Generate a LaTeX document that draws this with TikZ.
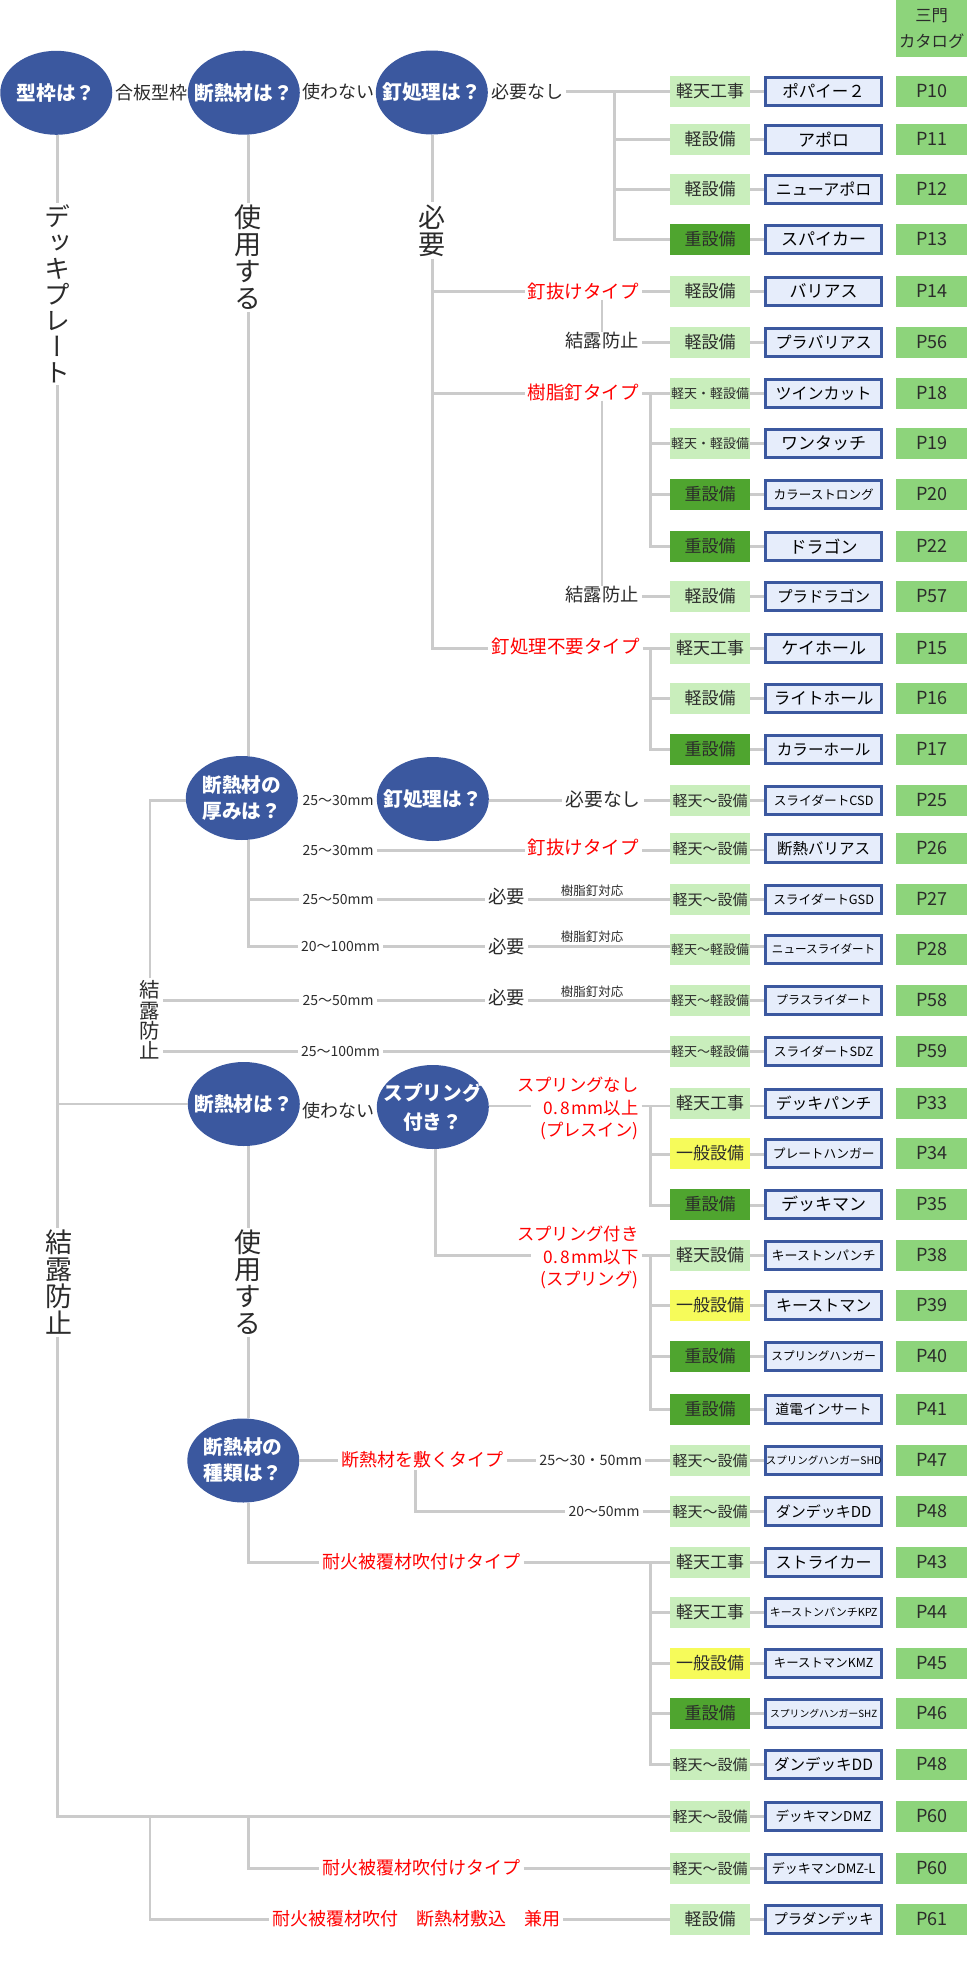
\documentclass[tikz,border=0pt]{standalone}
\usepackage{fontspec}
\usetikzlibrary{shapes.geometric}
\setmainfont{Noto Sans CJK JP}
\newfontfamily\vfont[RawFeature=+vert]{Noto Sans CJK JP}
\newcommand\fsz[1]{\fontsize{#1}{#1}\selectfont}
\definecolor{line}{HTML}{CBCBCB}
\definecolor{blu}{HTML}{3B589F}
\definecolor{prodfill}{HTML}{E6EDFB}
\definecolor{lgreen}{HTML}{C9EEBC}
\definecolor{dgreen}{HTML}{4FA52F}
\definecolor{yel}{HTML}{F6FB5A}
\definecolor{pagegreen}{HTML}{8DD47B}
\definecolor{txt}{HTML}{2B2B2B}
\tikzset{
  conn/.style={draw=line,line width=2.6pt},
  fine/.style={draw=line,line width=2pt},
  ell/.style={ellipse,fill=blu,minimum width=112pt,minimum height=84pt,inner sep=0pt},
  etxt/.style={text=white,font=\bfseries\fsz{19.7},align=center,inner sep=0pt},
  lab/.style={text=txt,font=\fsz{#1},inner xsep=3pt,inner ysep=0pt},
  rlab/.style={text=red,font=\fsz{#1},inner xsep=3pt,inner ysep=0pt},
  rlab3/.style={text=red,font=\fontsize{17.3}{22.5}\selectfont,align=right,inner xsep=3pt,inner ysep=0pt},
  vt/.style={text=txt,align=center,inner xsep=3pt,inner ysep=2pt,font=\vfont\fontsize{#1}{#1}\selectfont},
  tagbox/.style={minimum width=80pt,minimum height=30.7pt,inner sep=0pt},
  tl/.style={tagbox,fill=lgreen,text=txt},
  td/.style={tagbox,fill=dgreen,text=txt},
  ty/.style={tagbox,fill=yel,text=txt},
  prodbox/.style={draw=blu,line width=3pt,fill=prodfill,text=black,minimum width=116.5pt,minimum height=27.7pt,inner sep=0pt},
  pg/.style={fill=pagegreen,text=txt,minimum width=71pt,minimum height=30.7pt,inner sep=0pt,font=\fsz{18}},
}
% [link offset]{id}{y}{tag style}{tag size}{tag}{product size}{product}{page}
\newcommand\prow[9][0pt]{%
  \node[#4,font=\fsz{#5}] (t#2) at (719.5,#3) {#6};
  \node[prodbox,font=\fsz{#7}] (b#2) at (834.5,#3) {#8};
  \node[pg] (g#2) at (944,#3) {#9};
  \draw[conn] ([yshift=#1]t#2.east) -- ([yshift=#1]b#2.west);
}
\begin{document}
\begin{tikzpicture}[x=0.987pt,y=-1pt]
\useasboundingbox (0,0) rectangle (992.9,1965);
\node[pg,minimum height=57pt,align=center,font=\fontsize{16.3}{26}\selectfont] (hdr) at (944,28.5) {三門\\カタログ};

\prow{10}{91.3}{tl}{17}{軽天工事}{16.5}{ポパイー２}{P10}
\prow{11}{139.3}{tl}{17}{軽設備}{17}{アポロ}{P11}
\prow{12}{189.3}{tl}{17}{軽設備}{16}{ニューアポロ}{P12}
\prow{13}{239.3}{td}{17}{重設備}{17}{スパイカー}{P13}
\prow{14}{291.3}{tl}{17}{軽設備}{17}{バリアス}{P14}
\prow{56}{342.3}{tl}{17}{軽設備}{16}{プラバリアス}{P56}
\prow{18}{393.3}{tl}{13}{軽天・軽設備}{16}{ツインカット}{P18}
\prow{19}{443.3}{tl}{13}{軽天・軽設備}{17}{ワンタッチ}{P19}
\prow{20}{494.3}{td}{17}{重設備}{12.6}{カラーストロング}{P20}
\prow{22}{546.3}{td}{17}{重設備}{17}{ドラゴン}{P22}
\prow{57}{596.3}{tl}{17}{軽設備}{15.5}{プラドラゴン}{P57}
\prow{15}{648.3}{tl}{17}{軽天工事}{17}{ケイホール}{P15}
\prow{16}{698.3}{tl}{17}{軽設備}{16.6}{ライトホール}{P16}
\prow{17}{749.3}{td}{17}{重設備}{15.6}{カラーホール}{P17}
\prow{25}{800.3}{tl}{15}{軽天～設備}{12.7}{スライダートCSD}{P25}
\prow[-1.7pt]{26}{848.3}{tl}{15}{軽天～設備}{15.5}{断熱バリアス}{P26}
\prow{27}{899.3}{tl}{15}{軽天～設備}{12.7}{スライダートGSD}{P27}
\prow[2.6pt]{28}{949.3}{tl}{13}{軽天～軽設備}{11.6}{ニュースライダート}{P28}
\prow{58}{1000.3}{tl}{13}{軽天～軽設備}{12}{プラスライダート}{P58}
\prow{59}{1051.3}{tl}{13}{軽天～軽設備}{12.7}{スライダートSDZ}{P59}
\prow[-2.7pt]{33}{1103.3}{tl}{17}{軽天工事}{15.8}{デッキパンチ}{P33}
\prow[-1pt]{34}{1153.3}{ty}{17}{一般設備}{12.7}{プレートハンガー}{P34}
\prow[-1pt]{35}{1204.3}{td}{17}{重設備}{17}{デッキマン}{P35}
\prow{38}{1255.3}{tl}{17}{軽天設備}{13}{キーストンパンチ}{P38}
\prow{39}{1305.3}{ty}{17}{一般設備}{16}{キーストマン}{P39}
\prow{40}{1356.3}{td}{17}{重設備}{11.6}{スプリングハンガー}{P40}
\prow{41}{1409.3}{td}{17}{重設備}{13.7}{道電インサート}{P41}
\prow{47}{1460.3}{tl}{15}{軽天～設備}{10.5}{スプリングハンガーSHD}{P47}
\prow{48}{1511.3}{tl}{15}{軽天～設備}{15}{ダンデッキDD}{P48}
\prow{43}{1562.3}{tl}{17}{軽天工事}{16}{ストライカー}{P43}
\prow{44}{1612.3}{tl}{17}{軽天工事}{11}{キーストンパンチKPZ}{P44}
\prow{45}{1663.3}{ty}{17}{一般設備}{12.4}{キーストマンKMZ}{P45}
\prow{46}{1713.3}{td}{17}{重設備}{9.8}{スプリングハンガーSHZ}{P46}
\prow{48b}{1764.3}{tl}{15}{軽天～設備}{15.5}{ダンデッキDD}{P48}
\prow{60}{1816.3}{tl}{15}{軽天～設備}{13.5}{デッキマンDMZ}{P60}
\prow{60b}{1868.3}{tl}{15}{軽天～設備}{13}{デッキマンDMZ-L}{P60}
\prow{61}{1919.3}{tl}{17}{軽設備}{14.3}{プラダンデッキ}{P61}

% decision ellipses
\node[ell] (e1) at (57,92.8) {};
\node[etxt] at (e1) {型枠は？};
\node[ell] (e2) at (247,92.7) {};
\node[etxt] at (e2) {断熱材は？};
\node[ell] (e3) at (437.5,92.5) {};
\node[etxt] at (e3) {釘処理は？};
\node[ell] (e4) at (245,798) {};
\node[etxt,font=\bfseries\fontsize{19.7}{26}\selectfont] at (e4) {断熱材の\\厚みは？};
\node[ell] (e5) at (438.5,799) {};
\node[etxt] at (e5) {釘処理は？};
\node[ell] (e6) at (247,1104) {};
\node[etxt] at (e6) {断熱材は？};
\node[ell] (e7) at (438.5,1107) {};
\node[etxt,font=\bfseries\fontsize{19.7}{29}\selectfont] at (e7) {スプリング\\付き？};
\node[ell] (e8) at (246.5,1460.5) {};
\node[etxt,font=\bfseries\fontsize{19.7}{26}\selectfont] at (e8) {断熱材の\\種類は？};

% vertical labels
\node[vt=26] (v1) at (58,294) {デ\\ッ\\キ\\プ\\レ\\ー\\ト};
\node[vt=27] (v2) at (251.5,257.5) {使\\用\\す\\る};
\node[vt=27] (v3) at (438,230.5) {必\\要};
\node[vt=27] (v4) at (60,1282.5) {結\\露\\防\\止};
\node[vt=27] (v5) at (251.5,1282.5) {使\\用\\す\\る};
\node[vt=20.4] (v6) at (152,1020) {結\\露\\防\\止};

% edge labels, top
\node[lab=18] (a1) at (153,93) {合板型枠};
\node[lab=18] (a2) at (343,92) {使わない};
\node[lab=18] (a3) at (534,92) {必要なし};
\node[rlab=18.5] (l14) at (591,291) {釘抜けタイプ};
\node[lab=18.3] (k56) at (610,341) {結露防止};
\node[rlab=18.5] (l18) at (591,392) {樹脂釘タイプ};
\node[lab=18.3] (k57) at (610,595) {結露防止};
\node[rlab=18.5] (l15) at (573,646) {釘処理不要タイプ};

% middle labels
\node[lab=14] (m25) at (342.5,800.3) {25～30mm};
\node[lab=18.8] (n25) at (611,799) {必要なし};
\node[lab=14] (m26) at (342.5,850.3) {25～30mm};
\node[rlab=18.5] (r26) at (591,847) {釘抜けタイプ};
\node[lab=14] (m27) at (342.5,899.3) {25～50mm};
\node[lab=18.3] (y27) at (513.6,897) {必要};
\node[lab=12.5] (j27) at (600,890.7) {樹脂釘対応};
\node[lab=14] (m28) at (345,946.7) {20～100mm};
\node[lab=18.3] (y28) at (513.6,946.7) {必要};
\node[lab=12.5] (j28) at (600,937) {樹脂釘対応};
\node[lab=14] (m58) at (342.5,1000.3) {25～50mm};
\node[lab=18.3] (y58) at (513.6,998) {必要};
\node[lab=12.5] (j58) at (600,991.7) {樹脂釘対応};
\node[lab=14] (m59) at (345,1051.3) {25～100mm};

% lower labels
\node[lab=18] (a6) at (343,1110.7) {使わない};
\node[rlab3,anchor=east] (s33) at (650,1108.5) {スプリングなし\\0.\kern2pt 8\kern2pt mm以上\\(プレスイン)};
\node[rlab3,anchor=east] (s38) at (650,1257.5) {スプリング付き\\0.\kern2pt 8\kern2pt mm以下\\(スプリング)};
\node[rlab=18] (r47) at (428,1460) {断熱材を敷くタイプ};
\node[lab=14.3] (m47) at (598.5,1460) {25～30・50mm};
\node[lab=14] (m48) at (612,1511.3) {20～50mm};
\node[rlab=18] (r43) at (427,1562) {耐火被覆材吹付けタイプ};
\node[rlab=18] (r60) at (427,1868) {耐火被覆材吹付けタイプ};
\node[rlab=18] (r61) at (421.5,1919) {耐火被覆材吹付\quad 断熱材敷込\quad 兼用};

\coordinate (c1) at (622.5,91.3);
\coordinate (c2) at (659,393.3);
\coordinate (c3) at (659,648.3);
\coordinate (c4) at (659,1106);
\coordinate (c5) at (659,1255.3);
\coordinate (c6) at (659,1562.3);
\coordinate (c7) at (421,1470);
\coordinate (c8) at (441,1149);
\coordinate (c9) at (538,1106);

% main verticals
\draw[conn] (v1.north |- e1.south) -- (v1.north);
\draw[conn] (v1.south) -- (v1.south |- v4.north);
\draw[conn] (v1.south |- v4.south) |- (t60.west);
\draw[conn] (v1.south |- e6.west) -- (e6.west);
\draw[conn] (v2.north |- e2.south) -- (v2.north);
\draw[conn] (v2.south) -- (v2.south |- e4.north);
\draw[conn] (v3.north |- e3.south) -- (v3.north);
\draw[conn] (v3.south) |- (l15.west |- t15.west);
\draw[conn] (v3.south |- t14.west) -- (l14.west |- t14.west);
\draw[conn] (v3.south |- t18.west) -- (l18.west |- t18.west);

% top group
\draw[conn] (a3.east |- t10.west) -- (t10.west);
\draw[conn] (c1) |- (t13.west);
\draw[conn] (c1 |- t11.west) -- (t11.west);
\draw[conn] (c1 |- t12.west) -- (t12.west);
\draw[conn] (l14.east |- t14.west) -- (t14.west);
\draw[fine] (k56.north |- l14.south) -- (k56.north);
\draw[conn] (k56.east |- t56.west) -- (t56.west);
\draw[fine] (k57.north |- l18.south) -- (k57.north);
\draw[conn] (k57.east |- t57.west) -- (t57.west);
\draw[conn] (l18.east |- t18.west) -- (t18.west);
\draw[conn] (c2) |- (t22.west);
\draw[conn] (c2 |- t19.west) -- (t19.west);
\draw[conn] (c2 |- t20.west) -- (t20.west);
\draw[conn] (l15.east |- t15.west) -- (t15.west);
\draw[conn] (c3) |- (t17.west);
\draw[conn] (c3 |- t16.west) -- (t16.west);

% thickness section
\draw[conn] (v6.north) |- (e4.west |- t25.west);
\draw[conn] (v2.south |- e4.south) -- (v2.south |- m28.west) -- (m28.west);
\draw[conn] (v2.south |- m27.west) -- (m27.west);
\draw[conn] (e5.east |- t25.west) -- (n25.west |- t25.west);
\draw[conn] (n25.east |- t25.west) -- (t25.west);
\draw[conn] (m26.east) -- (r26.west |- m26.east);
\draw[conn] (r26.east |- m26.east) -- (t26.west |- m26.east);
\draw[conn] (m27.east) -- (y27.west |- m27.east);
\draw[conn] (y27.east |- t27.west) -- (t27.west);
\draw[conn] (m28.east) -- (y28.west);
\draw[conn] (y28.east) -- (t28.west |- y28.east);
\draw[conn] (v6.east |- t58.west) -- (m58.west);
\draw[conn] (m58.east) -- (y58.west |- m58.east);
\draw[conn] (y58.east |- t58.west) -- (t58.west);
\draw[conn] (v6.east |- t59.west) -- (m59.west);
\draw[conn] (m59.east) -- (t59.west);

% deck section
\draw[conn] (e7.east |- c4) -- (c9);
\draw[conn] (s33.east |- c4) -- (t33.west |- c4);
\draw[conn] (c4) |- ([yshift=-1pt]t35.west);
\draw[conn] (c4 |- t34.west) ++(0,1) -- ++(20,0);
\draw[conn] (c8) |- (c9 |- t38.west);
\draw[conn] (s38.east |- t38.west) -- (t38.west);
\draw[conn] (c5) |- (t41.west);
\draw[conn] (c5 |- t39.west) -- (t39.west);
\draw[conn] (c5 |- t40.west) -- (t40.west);
\draw[conn] (e6.south -| v5.south) -- (v5.north);
\draw[conn] (v5.south) -- (v5.south |- e8.north);
\draw[conn] (e8.east |- t47.west) -- (r47.west |- t47.west);
\draw[conn] (r47.east |- t47.west) -- (m47.west |- t47.west);
\draw[conn] (m47.east |- t47.west) -- (t47.west);
\draw[conn] (c7) |- (m48.west);
\draw[conn] (m48.east) -- (t48.west);
\draw[conn] (v5.south |- e8.south) |- (r43.west |- t43.west);
\draw[conn] (r43.east |- t43.west) -- (t43.west);
\draw[conn] (c6) |- (t48b.west);
\draw[conn] (c6 |- t44.west) -- (t44.west);
\draw[conn] (c6 |- t45.west) -- (t45.west);
\draw[conn] (c6 |- t46.west) -- (t46.west);

% bottom
\draw[conn] (v5.south |- t60.west) |- (r60.west |- t60b.west);
\draw[conn] (r60.east |- t60b.west) -- (t60b.west);
\draw[conn] (v6.north |- t60.west) |- (r61.west |- t61.west);
\draw[conn] (r61.east |- t61.west) -- (t61.west);
\end{tikzpicture}
\end{document}
